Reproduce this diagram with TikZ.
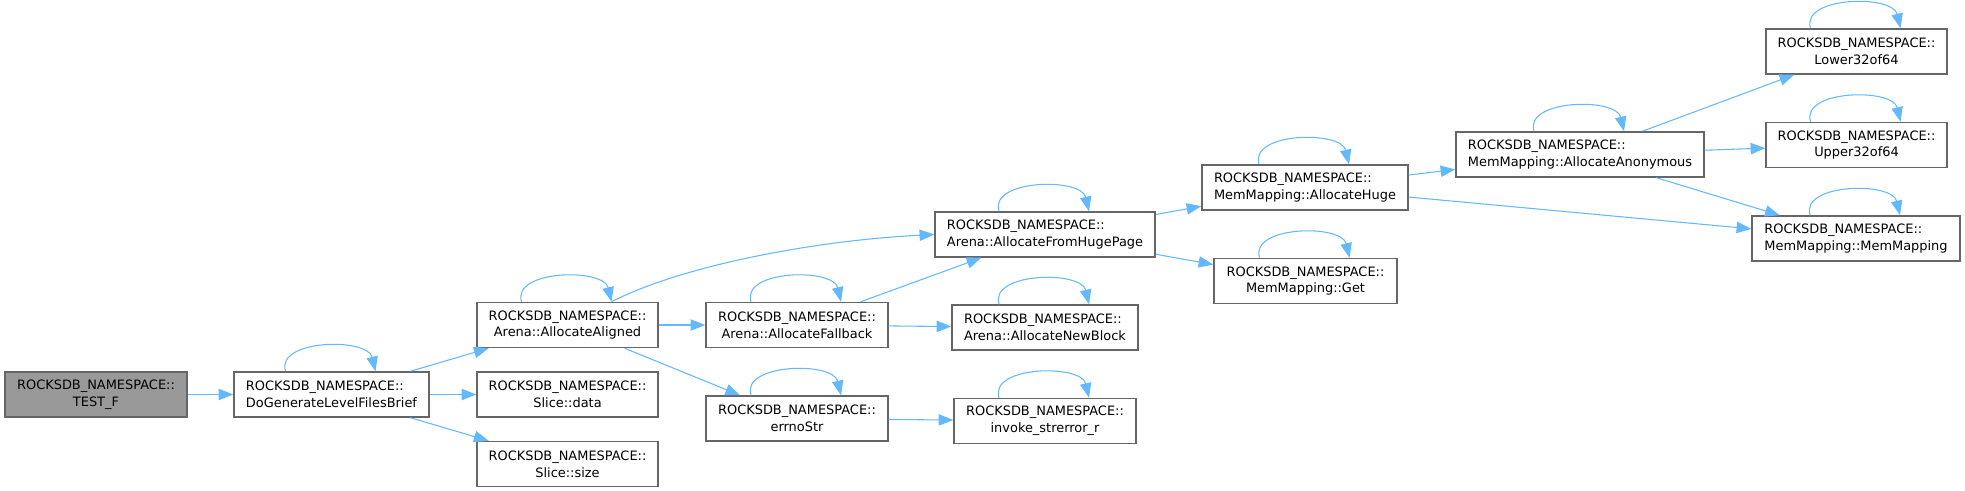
\documentclass[tikz,border=0pt]{standalone}
\usepackage{fontspec}
\setmainfont{DejaVu Sans}
\usetikzlibrary{arrows.meta,calc}
\definecolor{callblue}{HTML}{63B8FF}
\definecolor{boxgray}{HTML}{666666}
\definecolor{rootgray}{HTML}{999999}

\begin{document}
\begin{tikzpicture}[
    x=0.75pt, y=-0.75pt,
    fn/.style={rectangle, draw=boxgray, line width=1.1pt, fill=white, minimum height=33.75pt, inner sep=0pt, align=center, font=\fontsize{9.7}{12.5}\selectfont},
    fnwide/.style={fn, align=left},
    fnroot/.style={fn, fill=rootgray},
    call/.style={-{Triangle[length=11pt,width=8.5pt]}, draw=callblue, line width=0.8pt}
  ]
    \useasboundingbox (0,0) rectangle (1965,491);
    \node[fnroot, minimum width=136.5pt] (tf) at (96,394.5) {ROCKSDB\_NAMESPACE::\\TEST\_F};
    \node[fnwide, minimum width=146.25pt] (dg) at (331.5,394.5) {ROCKSDB\_NAMESPACE::\\DoGenerateLevelFilesBrief};
    \node[fn, minimum width=135.75pt] (aa) at (567.5,325) {ROCKSDB\_NAMESPACE::\\Arena::AllocateAligned};
    \node[fn, minimum width=135.75pt] (sd) at (567.5,394.5) {ROCKSDB\_NAMESPACE::\\Slice::data};
    \node[fn, minimum width=135.75pt] (ss) at (567.5,464) {ROCKSDB\_NAMESPACE::\\Slice::size};
    \node[fn, minimum width=136.5pt] (af) at (797,325) {ROCKSDB\_NAMESPACE::\\Arena::AllocateFallback};
    \node[fn, minimum width=136.5pt] (es) at (797,418.5) {ROCKSDB\_NAMESPACE::\\errnoStr};
    \node[fnwide, minimum width=165pt] (hp) at (1045,234.5) {ROCKSDB\_NAMESPACE::\\Arena::AllocateFromHugePage};
    \node[fnwide, minimum width=139.5pt] (nb) at (1045,327.5) {ROCKSDB\_NAMESPACE::\\Arena::AllocateNewBlock};
    \node[fn, minimum width=136.5pt] (is) at (1045,421) {ROCKSDB\_NAMESPACE::\\invoke\_strerror\_r};
    \node[fnwide, minimum width=154.5pt] (ah) at (1305,187.5) {ROCKSDB\_NAMESPACE::\\MemMapping::AllocateHuge};
    \node[fn, minimum width=137.25pt] (mg) at (1305.5,281) {ROCKSDB\_NAMESPACE::\\MemMapping::Get};
    \node[fnwide, minimum width=186pt] (an) at (1580,154.5) {ROCKSDB\_NAMESPACE::\\MemMapping::AllocateAnonymous};
    \node[fn, minimum width=135.75pt] (lo) at (1856.5,51.5) {ROCKSDB\_NAMESPACE::\\Lower32of64};
    \node[fn, minimum width=135.75pt] (up) at (1856.5,145) {ROCKSDB\_NAMESPACE::\\Upper32of64};
    \node[fnwide, minimum width=156pt] (mm) at (1856,238.5) {ROCKSDB\_NAMESPACE::\\MemMapping::MemMapping};
    \foreach \n in {dg,aa,af,es,hp,nb,is,ah,mg,an,lo,up,mm} {
      \draw[call] ($(\n.north)+(-46,0)$) .. controls +(-10,-32) and +(-8,-34) .. ($(\n.north)+(44,0)$);
    }
    \draw[call] (tf) -- (dg);
    \draw[call] (dg) -- (aa);
    \draw[call] (dg) -- (sd);
    \draw[call] (dg) -- (ss);
    \draw[call] ($(aa.north)+(44,0)$) .. controls +(70,-36) and +(-120,6) .. (hp.west);
    \draw[call] (aa) -- (af);
    \draw[call] (aa) -- (es);
    \draw[call] (af) -- (hp);
    \draw[call] (af) -- (nb);
    \draw[call] (es) -- (is);
    \draw[call] (hp) -- (ah);
    \draw[call] (hp) -- (mg);
    \draw[call] (ah) -- (an);
    \draw[call] (ah) -- (mm);
    \draw[call] (an) -- (lo);
    \draw[call] (an) -- (up);
    \draw[call] (an) -- (mm);
  \end{tikzpicture}
\end{document}
